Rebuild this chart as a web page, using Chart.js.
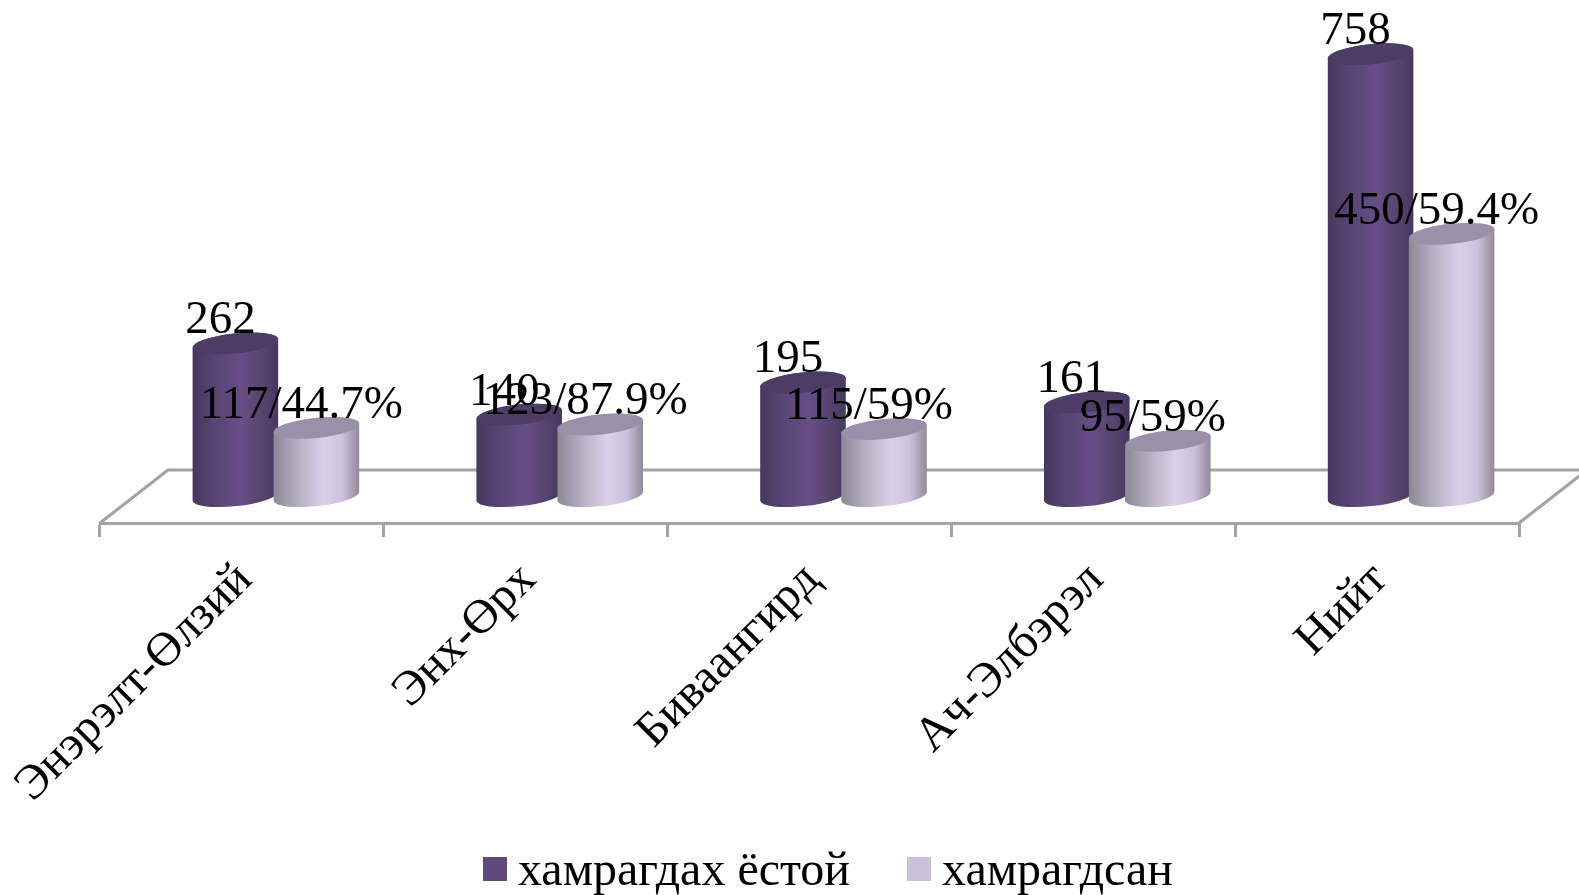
<!DOCTYPE html>
<html>
<head>
<meta charset="utf-8">
<title>Chart</title>
<script src="https://cdn.jsdelivr.net/npm/chart.js@4/dist/chart.umd.min.js"></script>
<style>
    html, body { margin: 0; padding: 0; background: white; }
    #wrap { position: relative; width: 1579px; height: 895px; overflow: hidden; }
    #legend { position: absolute; left: 483px; top: 841px; display: flex; align-items: center;
        font: 48px "Liberation Serif", serif; color: black; white-space: nowrap; line-height: 56px; }
    #legend span.box { display: inline-block; width: 24px; height: 24px; margin-right: 11px; }
    #legend div { display: flex; align-items: center; margin-right: 57px; }
</style>
</head>
<body>
<div id="wrap">
    <canvas id="chartCanvas" width="1579" height="895"></canvas>
    <div id="legend"></div>
</div>
<script>
const categories = ["Энэрэлт-Өлзий", "Энх-Өрх", "Биваангирд", "Ач-Элбэрэл", "Нийт"];
const seriesNames = ["хамрагдах ёстой", "хамрагдсан"];
const notCovered = [262, 140, 195, 161, 758];
const covered = [117, 123, 115, 95, 450];
const notCoveredLabels = ["262", "140", "195", "161", "758"];
const coveredLabels = ["117/44.7%", "123/87.9%", "115/59%", "95/59%", "450/59.4%"];

const labelFont = '47px "Liberation Serif", serif';
const gridColor = "#a3a3a3";

// body gradient stops and top colour for each series
const cylinderStyles = [
    { stops: ["#46375f", "#5a4775", "#664e85", "#57446f", "#473860"], top: "#4d3d66" },
    { stops: ["#8b8794", "#b8b0c4", "#dad1e9", "#cdc1dc", "#8f8a99"], top: "#9b90a9" }
];

function drawCylinder(ctx, cx, yTop, yBase, rx, style) {
    const ry = 10;
    const tilt = -6 * Math.PI / 180;

    const grad = ctx.createLinearGradient(cx - rx, 0, cx + rx, 0);
    style.stops.forEach((c, i) => grad.addColorStop([0, 0.3, 0.58, 0.8, 1][i], c));

    ctx.beginPath();
    ctx.ellipse(cx, yBase, rx, ry, tilt, 0, Math.PI);
    ctx.ellipse(cx, yTop, rx, ry, tilt, Math.PI, 2 * Math.PI);
    ctx.closePath();
    ctx.fillStyle = grad;
    ctx.fill();

    ctx.beginPath();
    ctx.ellipse(cx, yTop, rx, ry, tilt, 0, 2 * Math.PI);
    ctx.fillStyle = style.top;
    ctx.fill();
}

// floor of the fake 3D box, behind the bars
const floorPlugin = {
    id: "floor",
    beforeDatasetsDraw(chart) {
        const { ctx, chartArea } = chart;
        const dx = 68, dy = 53;
        const bottom = chartArea.bottom;
        ctx.save();
        ctx.strokeStyle = gridColor;
        ctx.lineWidth = 3;
        ctx.beginPath();
        ctx.moveTo(chartArea.left, bottom);
        ctx.lineTo(chartArea.left + dx, bottom - dy);
        ctx.lineTo(chartArea.right + dx, bottom - dy);
        ctx.lineTo(chartArea.right, bottom);
        ctx.stroke();
        ctx.restore();
    }
};

const cylinderPlugin = {
    id: "cylinders",
    afterDatasetsDraw(chart) {
        const ctx = chart.ctx;
        const depthShift = 34;
        ctx.save();
        chart.data.datasets.forEach((ds, d) => {
            chart.getDatasetMeta(d).data.forEach(bar => {
                drawCylinder(ctx, bar.x + depthShift, bar.y, bar.base, bar.width / 2 + 2.5, cylinderStyles[d]);
            });
        });
        // value labels last, they overlap each other in the original too
        ctx.font = labelFont;
        ctx.fillStyle = "black";
        ctx.textAlign = "center";
        ctx.textBaseline = "alphabetic";
        const texts = [notCoveredLabels, coveredLabels];
        chart.data.datasets.forEach((ds, d) => {
            chart.getDatasetMeta(d).data.forEach((bar, i) => {
                ctx.fillText(texts[d][i], bar.x + depthShift - 15, bar.y - 10);
            });
        });
        ctx.restore();
    }
};

const chart = new Chart(document.getElementById("chartCanvas").getContext("2d"), {
    type: "bar",
    data: {
        labels: categories,
        datasets: [
            { label: seriesNames[0], data: notCovered, backgroundColor: "transparent", legendColor: "#604a7b" },
            { label: seriesNames[1], data: covered, backgroundColor: "transparent", legendColor: "#ccc1da" }
        ]
    },
    options: {
        responsive: false,
        animation: false,
        layout: { padding: { left: 100, right: 60, top: 0, bottom: 0 } },
        datasets: { bar: { barPercentage: 1, categoryPercentage: 0.571 } },
        plugins: {
            legend: { display: false },
            tooltip: { enabled: false }
        },
        scales: {
            x: {
                afterFit(axis) {
                    axis.height = 372;
                    // rotated labels would otherwise push the plot area in
                    axis.paddingLeft = 0;
                    axis.paddingRight = 0;
                },
                grid: { drawOnChartArea: false, color: gridColor, lineWidth: 3, tickLength: 14, offset: true },
                border: { color: gridColor, width: 3 },
                ticks: {
                    color: "black",
                    font: { family: '"Liberation Serif", serif', size: 48 },
                    minRotation: 45,
                    maxRotation: 45,
                    padding: 15,
                    labelOffset: 3,
                    autoSkip: false
                }
            },
            y: { display: false, min: -46, max: 851 }
        }
    },
    plugins: [floorPlugin, cylinderPlugin]
});

// legend as html so box and text spacing can follow the picture
document.getElementById("legend").innerHTML = chart.data.datasets.map(ds =>
    `<div><span class="box" style="background:${ds.legendColor}"></span>${ds.label}</div>`
).join("");
</script>
</body>
</html>
